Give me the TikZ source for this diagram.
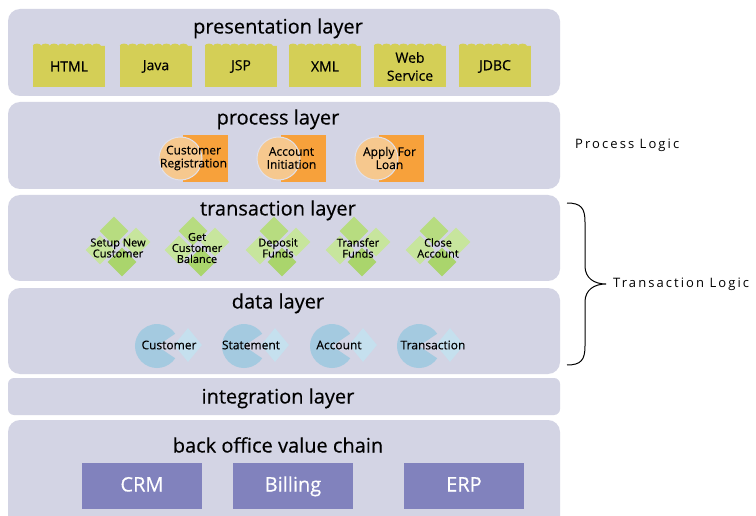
\documentclass[tikz,border=0pt]{standalone}
\usepackage{fontspec}
\setmainfont{Open Sans}[FakeBold=0.35]
\newfontfamily\logicfont[LetterSpace=16]{Open Sans}
\usetikzlibrary{shapes.geometric,decorations.pathmorphing}
\definecolor{layergray}{RGB}{211,212,228}
\definecolor{webyellow}{RGB}{212,207,86}
\definecolor{procorange}{RGB}{247,161,59}
\definecolor{procpeach}{RGB}{246,200,142}
\definecolor{txdark}{RGB}{170,213,108}
\definecolor{txmid}{RGB}{183,220,128}
\definecolor{txlight}{RGB}{199,229,157}
\definecolor{datablue}{RGB}{164,202,224}
\definecolor{datalight}{RGB}{197,224,238}
\definecolor{backblue}{RGB}{129,130,189}
\tikzset{
  layer/.style={fill=layergray, rounded corners=12pt, minimum width=552pt, inner sep=0pt},
  layertitle/.style={font=\fontsize{20}{24}\selectfont, inner sep=0pt, text height=15pt, text depth=4pt},
  webbox/.style={fill=webyellow, minimum width=72pt, minimum height=41pt, inner sep=0pt, align=center, font=\fontsize{14}{18}\selectfont},
  procbox/.style={fill=procorange, minimum width=45pt, minimum height=47pt, inner sep=0pt},
  procdisc/.style={circle, fill=procpeach, draw=layergray!70!white, line width=1pt, minimum size=43pt, inner sep=0pt},
  smalltext/.style={align=center, inner sep=0pt, font=\fontsize{12}{13}\selectfont},
  txleaf/.style={diamond, minimum size=29pt, inner sep=0pt},
  datatip/.style={diamond, fill=datalight, minimum width=28pt, minimum height=34pt, inner sep=0pt},
  backbox/.style={fill=backblue, minimum width=120pt, minimum height=46pt, inner sep=0pt, text=white, text height=15pt, text depth=4pt, font=\fontsize{20}{24}\selectfont},
  logic/.style={font=\logicfont\fontsize{13}{16}\selectfont, inner sep=0pt, anchor=west}
}
\begin{document}
\begin{tikzpicture}[x=1pt,y=-1pt]
\clip (0,0) rectangle (756,516);
\fill[white] (0,0) rectangle (756,516);
\node[layer, minimum height=87pt] (pres) at (284,52.5) {};
\node[layer, minimum height=87pt] (proc) at (284,145.5) {};
\node[layer, minimum height=86pt] (trans) at (284,238) {};
\node[layer, minimum height=86pt] (data) at (284,331) {};
\node[layer, minimum height=37pt, rounded corners=6pt] (integ) at (284,396.5) {};
\node[layer, minimum height=120pt] (back) at (284,480) {};
\node[layertitle] (prestitle) at (278,28) {presentation layer};
\node[layertitle] (proctitle) at (278,119) {process layer};
\node[layertitle] (transtitle) at (278,210) {transaction layer};
\node[layertitle] (datatitle) at (278,303) {data layer};
\node[layertitle] (integtitle) at (278,398) {integration layer};
\node[layertitle] (backtitle) at (278,447) {back office value chain};
\foreach \name/\x/\txt in {html/69/HTML, java/156/Java, jsp/241/JSP, xml/325/XML, web/410/{Web\\Service}, jdbc/495/JDBC} {
  \node[webbox] (\name) at (\x,66.5) {\txt};
  \fill[webyellow] decorate[decoration={bumps, segment length=17pt, amplitude=2.2pt}] {(\name.north west) -- (\name.north east)};
}
\foreach \name/\x/\txt in {custreg/180.5/{Customer\\Registration}, accinit/278.5/{Account\\Initiation}, loan/376.5/{Apply For\\Loan}} {
  \node[procbox] (\name box) at (\x+25,158.5) {};
  \node[procdisc] (\name disc) at (\x,158.5) {};
  \node[smalltext] (\name) at (\x+13,158) {\txt};
}
\foreach \name/\x/\txt in {setup/118/{Setup New\\Customer}, balance/197/{Get\\Customer\\Balance}, deposit/278/{Deposit\\Funds}, transfer/358/{Transfer\\Funds}, close/438/{Close\\Account}} {
  \node[txleaf, fill=txlight] (\name l) at (\x-18,250) {};
  \node[txleaf, fill=txlight] (\name r) at (\x+18,242) {};
  \node[txleaf, fill=txmid] (\name t) at (\x-4,231) {};
  \node[txleaf, fill=txdark] (\name b) at (\x+4,262) {};
  \node[smalltext, font=\fontsize{11}{11}\selectfont] (\name) at (\x,248) {\txt};
}
\foreach \name/\x/\tx/\txt in {customer/157/169/Customer, statement/244/251/Statement, account/332/339/Account, transaction/419/433/Transaction} {
  \node[datatip] (\name tip) at (\x+31,345) {};
  \fill[datablue] (\x,346) -- ++(34:22) arc[start angle=34, end angle=326, radius=22] -- cycle;
  \node[smalltext] (\name) at (\tx,345) {\txt};
}
\foreach \name/\x/\txt in {crm/142/CRM, billing/293/Billing, erp/464/ERP}
  \node[backbox] (\name) at (\x,486) {\txt};
\node[logic] (proclogic) at (575,145) {Process Logic};
\coordinate (btop) at (567,203);
\coordinate (btip) at (606,284);
\coordinate (bbot) at (567,365);
\node[logic] (txlogic) at (613,284) {Transaction Logic};
\draw[line width=1pt] (btop) .. controls (581,203) and (585,208) .. (585,222) -- (585,266) .. controls (585,278) and (594,284) .. (btip) .. controls (594,284) and (585,290) .. (585,302) -- (585,346) .. controls (585,360) and (581,365) .. (bbot);
\end{tikzpicture}
\end{document}
